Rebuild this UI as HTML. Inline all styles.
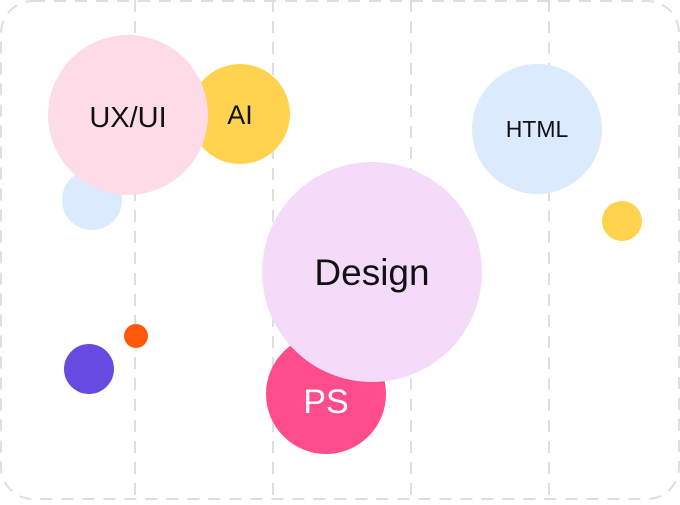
<!DOCTYPE html>
<html><head><meta charset="utf-8"><style>
html,body{margin:0;padding:0;background:#fff;}
body{width:680px;height:500px;overflow:hidden;}
text{font-family:"Liberation Sans",sans-serif;}
</style></head><body>
<svg width="680" height="500" viewBox="0 0 680 500" xmlns="http://www.w3.org/2000/svg">
<rect x="1" y="1" width="678" height="498" rx="32" fill="#fff" stroke="#dedede" stroke-width="2" stroke-dasharray="12 9"/>
<g stroke="#dedede" stroke-width="2" stroke-dasharray="12 9">
<line x1="135" y1="0" x2="135" y2="500"/>
<line x1="273" y1="0" x2="273" y2="500"/>
<line x1="411" y1="0" x2="411" y2="500"/>
<line x1="549" y1="0" x2="549" y2="500"/>
</g>
<circle cx="92" cy="200" r="30" fill="#dbeafd"/>
<circle cx="240" cy="114" r="50" fill="#ffd24f"/>
<circle cx="128" cy="115" r="80" fill="#fddbe7"/>
<circle cx="537" cy="129" r="65" fill="#dbeafd"/>
<circle cx="622" cy="221" r="20" fill="#ffd24f"/>
<circle cx="89" cy="369" r="25" fill="#654be0"/>
<circle cx="136" cy="336" r="12" fill="#fe5a0a"/>
<circle cx="326" cy="394" r="60" fill="#ff4c8b"/>
<circle cx="372" cy="272" r="110" fill="#f4dbf9"/>
<g fill="#111" text-anchor="middle">
<text x="128" y="127" font-size="29">UX/UI</text>
<text x="240" y="124" font-size="27">AI</text>
<text x="537" y="137" font-size="23">HTML</text>
<text x="372" y="285" font-size="37">Design</text>
<text x="326" y="413" font-size="34" fill="#fff">PS</text>
</g>
</svg>
</body></html>
